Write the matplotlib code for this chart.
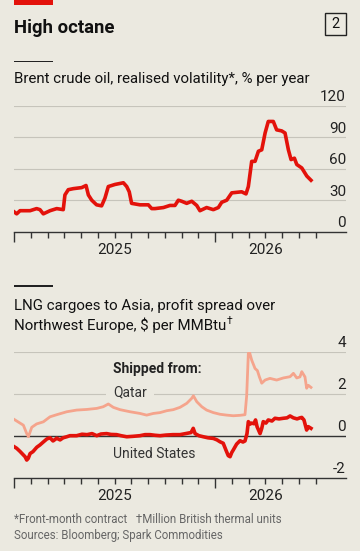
import matplotlib.pyplot as plt
import matplotlib.patches as patches

plt.rcParams['font.family'] = ['Roboto', 'DejaVu Sans']

BG = '#ebe9e0'
RED = '#e3120b'
SALMON = '#f5a48c'
GRID = '#c6c4bb'
DARK = '#333333'

# x values are months since January 2025
brent_x = [0, 0.16, 0.36, 0.96, 1.35, 1.55, 1.75, 2.15, 2.55, 2.94, 3.04, 3.24, 3.54,
           4.04, 4.30, 4.44, 4.64, 4.93, 5.23, 5.43, 5.63, 6.03, 6.53, 6.73, 6.88,
           7.02, 7.52, 8.02, 8.22, 8.42, 8.92, 9.31, 9.61, 9.81, 10.01, 10.31, 10.61,
           10.91, 11.10, 11.50, 11.90, 12.20, 12.40, 12.70, 13.0, 13.59, 13.85, 13.99,
           14.19, 14.39, 14.59, 14.79, 14.99, 15.18, 15.48, 15.68, 15.98, 16.18, 16.38,
           16.54, 16.74, 16.88, 17.18, 17.48, 17.73]
brent_y = [19, 17, 20, 20, 22, 21, 17, 20, 22, 21, 35, 40, 41,
           42, 44, 35, 30, 25.6, 24.6, 32, 43, 45, 46.6, 43, 38,
           27, 25.6, 25.6, 22, 22, 23, 25, 25, 30, 29, 27, 29,
           25, 20, 23, 21, 23, 28, 30, 37, 38, 36, 43,
           67, 67, 76.6, 78, 94, 105, 105, 97, 96, 94, 78,
           68.7, 70, 64, 60.7, 53, 49]

qatar_x = [0, 0.36, 0.56, 0.76, 0.86, 1.06, 1.35, 1.75, 2.15, 2.55, 3.15, 3.74, 4.34,
           4.94, 5.33, 5.63, 5.93, 6.33, 6.93, 7.52, 7.92, 8.32, 8.72, 9.12, 9.51,
           9.91, 10.31, 10.61, 10.71, 10.91, 11.21, 11.50, 11.90, 12.30, 12.70, 13.09,
           13.49, 13.79, 13.89, 13.99, 14.05, 14.19, 14.39, 14.53, 14.65, 14.79, 14.99,
           15.28, 15.68, 16.08, 16.48, 16.68, 16.88, 17.07, 17.18, 17.37, 17.47, 17.57,
           17.73]
qatar_y = [0.78, 0.6, 0.5, 0.1, -0.05, 0.4, 0.56, 0.66, 0.9, 1.0, 1.14, 1.22, 1.25,
           1.30, 1.38, 1.51, 1.35, 1.24, 1.14, 1.06, 0.98, 1.06, 1.1, 1.19, 1.24,
           1.35, 1.54, 1.78, 1.9, 1.62, 1.38, 1.22, 1.1, 1.02, 0.98, 0.95,
           0.97, 1.0, 1.9, 3.92, 4.0, 3.6, 3.2, 3.1, 2.8, 2.5, 2.65,
           2.73, 2.65, 2.75, 2.81, 2.97, 2.75, 2.8, 3.05, 2.8, 2.26, 2.4,
           2.3]

us_x = [0, 0.16, 0.36, 0.54, 0.66, 0.76, 0.85, 0.96, 1.13, 1.36, 1.55, 1.75, 1.97,
        2.15, 2.33, 2.55, 2.75, 2.93, 3.15, 3.34, 3.74, 4.06, 4.36, 4.66, 4.94,
        5.19, 5.53, 5.79, 6.13, 6.39, 6.73, 7.1, 7.52, 7.82, 8.12, 8.42, 8.72,
        9.07, 9.49, 9.91, 10.31, 10.57, 10.70, 10.81, 11.04, 11.30, 11.58, 11.90,
        12.12, 12.30, 12.49, 12.66, 12.79, 12.90, 13.0, 13.09, 13.29, 13.49, 13.67,
        13.79, 13.91, 13.99, 14.09, 14.19, 14.33, 14.42, 14.51, 14.69, 14.79, 14.88,
        15.04, 15.18, 15.40, 15.58, 15.82, 16.08, 16.30, 16.48, 16.68, 16.90, 17.07,
        17.18, 17.31, 17.47, 17.57, 17.73]
us_y = [-0.52, -0.6, -0.75, -0.9, -1.0, -1.16, -1.08, -0.85, -0.76, -0.55, -0.44, -0.3, -0.15,
        -0.1, -0.25, -0.12, -0.2, -0.1, -0.05, 0.0, 0.0, 0.07, 0.05, 0.1, 0.0,
        0.08, 0.1, 0.06, 0.05, 0.0, -0.05, -0.03, 0.0, 0.05, 0.05, 0.02, 0.0,
        0.03, 0.05, 0.05, 0.11, 0.15, 0.35, 0.1, 0.0, -0.05, -0.1, -0.13,
        -0.2, -0.29, -0.36, -0.7, -0.95, -1.0, -0.8, -0.68, -0.4, -0.24, -0.3,
        -0.25, 0.1, 0.67, 0.55, 0.6, 0.57, 0.75, 0.43, 0.1, 0.35, 0.67,
        0.6, 0.75, 0.7, 0.83, 0.8, 0.83, 0.85, 0.94, 0.85, 0.8, 0.85,
        0.87, 0.75, 0.27, 0.43, 0.35]

brent_ticks = [0, 30, 60, 90, 120]
lng_ticks = [-2, 0, 2, 4]
years = ['2025', '2026']
year_pos = [6, 15]

W, H = 360, 551
fig = plt.figure(figsize=(W / 100, H / 100), dpi=100, facecolor=BG)


def fx(px):
    return px / W


def fy(py):
    return 1 - py / H


def make_axes(top, bottom):
    ax = fig.add_axes([fx(14), fy(bottom), fx(346) - fx(14), (bottom - top) / H])
    ax.set_facecolor(BG)
    ax.patch.set_alpha(0)
    for s in ['top', 'right', 'left']:
        ax.spines[s].set_visible(False)
    ax.spines['bottom'].set_color(DARK)
    ax.spines['bottom'].set_linewidth(1)
    ax.set_xlim(0, 19.82)
    ax.set_yticks([])
    ax.set_xticks([0, 12])
    ax.set_xticks([m for m in range(19) if m not in (0, 12)], minor=True)
    ax.tick_params(axis='x', which='major', length=7.5, width=1, color=DARK, labelbottom=False)
    ax.tick_params(axis='x', which='minor', length=4.3, width=1, color=DARK)
    for label, pos in zip(years, year_pos):
        ax.annotate(label, xy=(pos, 0), xycoords=('data', 'axes fraction'),
                    xytext=(0, -15.8), textcoords='offset points',
                    ha='center', va='baseline', fontsize=11, color='#222222')
    return ax


def y_labels(ax, ticks):
    for v in ticks:
        ax.annotate(f'{v}', xy=(1, v), xycoords=('axes fraction', 'data'),
                    xytext=(0, 3.2), textcoords='offset points',
                    ha='right', va='baseline', fontsize=11, color='#222222')


# header
fig.patches.append(patches.Rectangle((fx(14), fy(5)), 39 / W, 5 / H,
                                     transform=fig.transFigure, fc=RED, ec='none'))
fig.text(fx(14), fy(33.3), 'High octane', fontsize=13.3, fontweight='bold',
         va='baseline', color='#111111')
fig.patches.append(patches.Rectangle((fx(325), fy(35)), 21 / W, 22 / H,
                                     transform=fig.transFigure, fill=False,
                                     ec='#222222', lw=1))
fig.text(fx(335.7), fy(24), '2', fontsize=10.5, ha='center', va='center', color='#111111')

# top panel
fig.patches.append(patches.Rectangle((fx(14), fy(62)), 39 / W, 1.2 / H,
                                     transform=fig.transFigure, fc='#222222', ec='none'))
fig.text(fx(14), fy(83.3), 'Brent crude oil, realised volatility*, % per year',
         fontsize=10.8, va='baseline', color='#111111')

ax1 = make_axes(105.7, 231.7)
ax1.set_ylim(0, 120)
for v in brent_ticks[1:]:
    ax1.axhline(v, color=GRID, lw=0.8, zorder=1)
y_labels(ax1, brent_ticks)
ax1.plot(brent_x, brent_y, color=RED, lw=2.6, zorder=3, solid_joinstyle='round')

# bottom panel
fig.patches.append(patches.Rectangle((fx(14), fy(286.5)), 39 / W, 1.2 / H,
                                     transform=fig.transFigure, fc='#222222', ec='none'))
fig.text(fx(14), fy(310), 'LNG cargoes to Asia, profit spread over',
         fontsize=10.8, va='baseline', color='#111111')
sub2 = fig.text(fx(14), fy(330), 'Northwest Europe, \\$ per MMBtu',
                fontsize=10.8, va='baseline', color='#111111')
fig.canvas.draw()
bb = sub2.get_window_extent()
fig.text(bb.x1 / fig.bbox.width + 0.0005, fy(324.5), '†',
         fontsize=7.5, va='baseline', color='#111111')

ax2 = make_axes(351.7, 477.7)
ax2.set_ylim(-2, 4)
for v in lng_ticks[2:]:
    ax2.axhline(v, color=GRID, lw=0.8, zorder=1)
ax2.axhline(0, color=DARK, lw=1, zorder=2.5)
y_labels(ax2, lng_ticks)
ax2.plot(qatar_x, qatar_y, color=SALMON, lw=2.0, zorder=3, solid_joinstyle='round')
ax2.plot(us_x, us_y, color=RED, lw=2.6, zorder=4, solid_joinstyle='round')

ax2.text(5.93, 3.0, 'Shipped from:', fontsize=10, fontweight='bold',
         va='baseline', ha='left', color='#222222', zorder=2)
ax2.text(5.93, 1.85, 'Qatar', fontsize=10, va='baseline', ha='left', color='#333333',
         zorder=2, bbox=dict(fc=BG, ec='none', pad=5))
ax2.text(5.93, -1.08, 'United States', fontsize=10, va='baseline', ha='left',
         color='#333333', zorder=2)

# footer
fig.text(fx(14), fy(522.7), '*Front-month contract   †Million British thermal units',
         fontsize=8.3, va='baseline', color='#666666')
fig.text(fx(14), fy(539.3), 'Sources: Bloomberg; Spark Commodities',
         fontsize=8.3, va='baseline', color='#666666')

fig.savefig('out.png', dpi=100, facecolor=BG)
